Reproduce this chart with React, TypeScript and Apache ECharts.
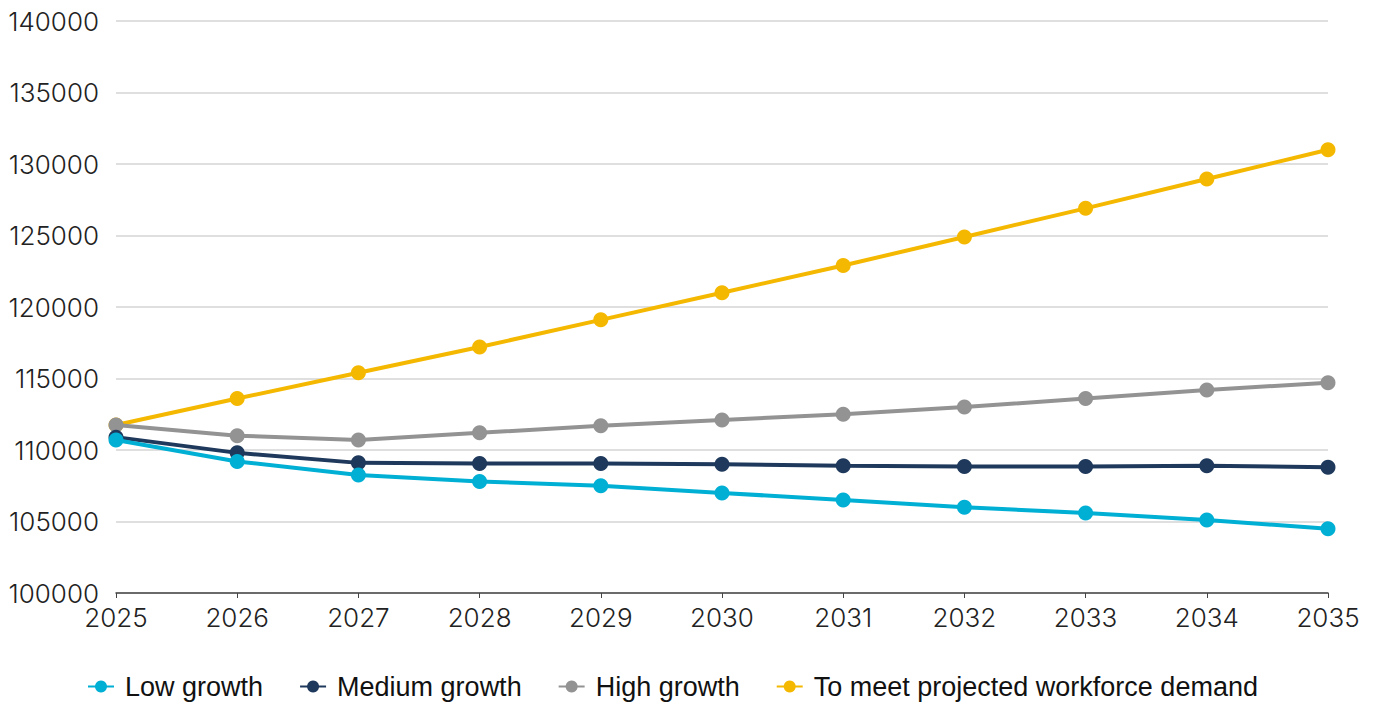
import React, { useEffect, useRef } from "react";
import * as echarts from "echarts";

const years = ["2025", "2026", "2027", "2028", "2029", "2030", "2031", "2032", "2033", "2034", "2035"];
const lowGrowth = [110700, 109200, 108250, 107800, 107500, 107000, 106500, 106000, 105600, 105100, 104500];
const mediumGrowth = [110900, 109800, 109100, 109050, 109050, 109000, 108900, 108850, 108850, 108900, 108800];
const highGrowth = [111750, 111000, 110700, 111200, 111700, 112100, 112500, 113000, 113600, 114200, 114700];
const demand = [111750, 113600, 115400, 117200, 119100, 121000, 122900, 124900, 126900, 128950, 131000];

const seriesNames = ["Low growth", "Medium growth", "High growth", "To meet projected workforce demand"];
const colors = ["#00afd4", "#1f395c", "#939393", "#f5b800"];

export default function App() {
  const ref = useRef<HTMLDivElement>(null);
  useEffect(() => {
    if (!ref.current) return;
    const chart = echarts.init(ref.current, undefined, { renderer: "svg" });
    const datasets = [lowGrowth, mediumGrowth, highGrowth, demand];
    chart.setOption({
      animation: false,
      color: colors,
      grid: { left: 116, right: 49, top: 21, bottom: 111, containLabel: false },
      legend: {
        bottom: -1,
        left: 82,
        itemWidth: 26,
        itemHeight: 15,
        itemGap: 36,
        textStyle: { fontFamily: "'Liberation Sans', Arial, sans-serif", fontSize: 27, color: "#111", padding: [0, 0, 0, 6] },
        data: seriesNames,
      },
      xAxis: {
        type: "category",
        data: years,
        boundaryGap: false,
        axisLine: { show: true, lineStyle: { color: "#444", width: 1.5 } },
        axisTick: { show: true, alignWithLabel: true, length: 5, lineStyle: { color: "#444" } },
        axisLabel: { fontFamily: "Inter, sans-serif", fontWeight: 300, fontSize: 26, color: "#222", margin: 11 },
      },
      yAxis: {
        type: "value",
        min: 100000,
        max: 140000,
        interval: 5000,
        axisLine: { show: false },
        axisTick: { show: false },
        splitLine: { lineStyle: { color: "#d4d4d4", width: 1.5 } },
        axisLabel: {
          fontFamily: "Inter, sans-serif",
          fontWeight: 300,
          fontSize: 26,
          color: "#222",
          margin: 17,
          formatter: (v: number) => String(v),
        },
      },
      series: datasets.map((d, i) => ({
        name: seriesNames[i],
        type: "line",
        data: d,
        symbol: "circle",
        symbolSize: 15,
        lineStyle: { width: 4, color: colors[i] },
        itemStyle: { color: colors[i] },
        z: 2 + (3 - i),
      })),
    });
    return () => chart.dispose();
  }, []);
  return <div ref={ref} style={{ width: 1377, height: 704, position: "absolute", left: 0, top: 0 }} />;
}
